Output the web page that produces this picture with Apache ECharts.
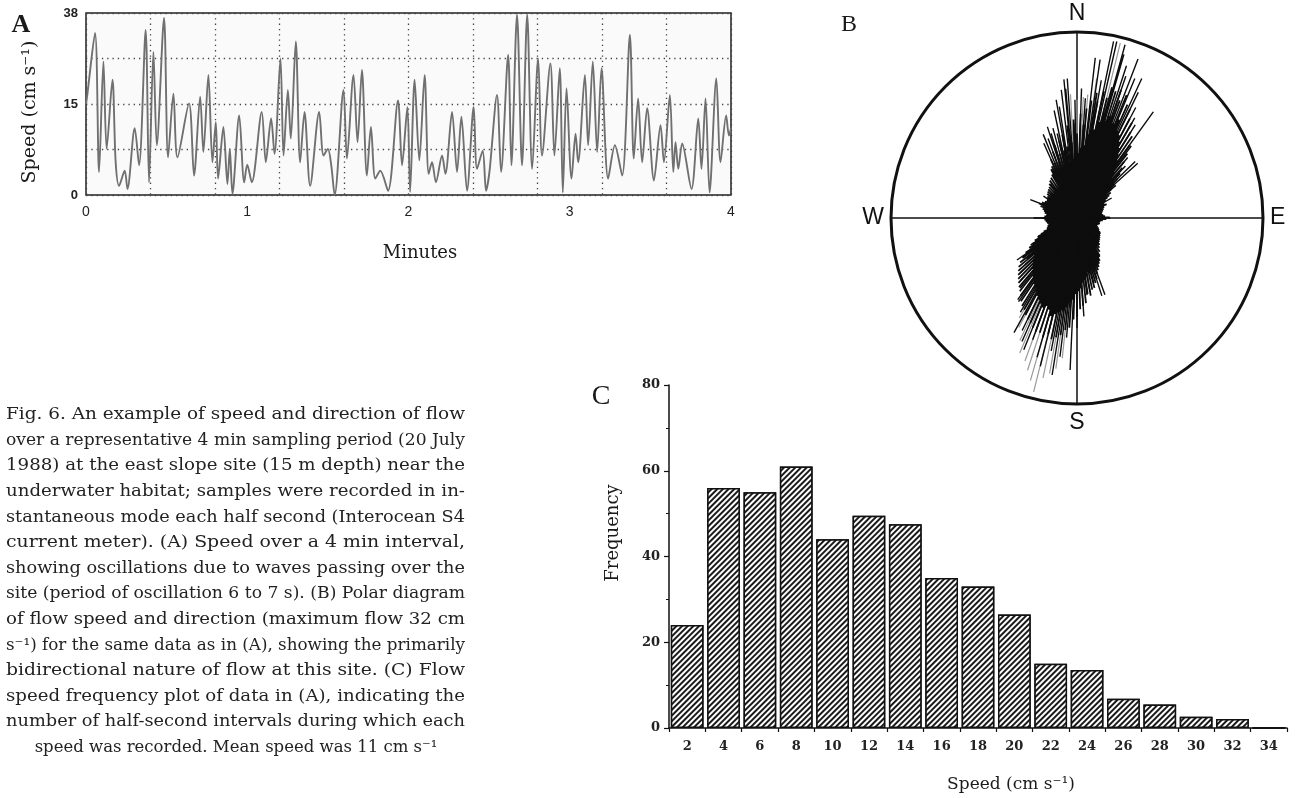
<!DOCTYPE html>
<html>
<head>
<meta charset="utf-8">
<script src="https://cdn.jsdelivr.net/npm/echarts@6/dist/echarts.min.js"></script>
<style>
html,body{margin:0;padding:0;background:#fff;}
#chart{width:1296px;height:798px;}
</style>
</head>
<body>
<div id="chart"></div>
<script>
// ---------- Panel A : speed time series ----------
const timeMinutes = [
  0.000,0.008,0.056,0.081,0.108,0.128,0.164,0.184,0.205,0.240,0.257,0.302,0.329,0.370,0.391,0.418,0.439,0.484,0.509,0.542,
  0.567,0.639,0.670,0.708,0.728,0.759,0.784,0.805,0.819,0.852,0.877,0.892,0.908,0.950,0.981,1.000,1.028,1.090,1.115,1.148,
  1.169,1.206,1.225,1.252,1.270,1.301,1.328,1.355,1.390,1.446,1.473,1.500,1.521,1.542,1.597,1.618,1.659,1.684,1.711,1.742,
  1.767,1.794,1.825,1.873,1.935,1.960,1.993,2.010,2.038,2.067,2.100,2.125,2.146,2.170,2.208,2.229,2.270,2.301,2.328,2.363,
  2.404,2.425,2.460,2.481,2.502,2.549,2.574,2.618,2.638,2.673,2.704,2.736,2.767,2.804,2.828,2.880,2.905,2.938,2.957,2.980,
  3.011,3.036,3.052,3.094,3.114,3.143,3.170,3.197,3.238,3.280,3.325,3.373,3.397,3.424,3.449,3.480,3.522,3.563,3.584,3.621,
  3.642,3.656,3.673,3.697,3.755,3.797,3.817,3.842,3.867,3.909,3.935,3.970,3.987,4.000
];
const speedCm = [
  15.0,16.5,26.7,3.8,22.0,7.6,19.0,5.4,1.5,4.0,1.0,11.0,4.9,27.2,2.1,23.6,8.2,29.2,6.2,16.7,
  6.2,15.1,3.2,16.2,7.1,19.8,5.4,12.0,2.7,11.2,1.8,7.6,0.2,13.1,2.1,5.0,2.1,13.7,5.4,12.6,
  6.8,22.5,6.5,17.3,9.3,25.3,5.4,13.7,1.5,13.7,6.5,7.6,4.9,0.0,17.3,6.0,19.8,8.7,20.6,3.2,
  11.2,2.7,4.0,0.7,15.6,4.9,14.5,0.5,19.0,5.7,19.8,3.5,5.4,2.1,6.5,3.5,13.7,3.8,12.9,0.7,
  14.5,4.3,7.3,0.7,3.8,16.5,3.8,23.1,4.9,29.7,4.9,29.7,4.3,22.5,6.5,21.7,6.5,20.9,0.4,17.6,
  2.7,10.1,5.4,19.8,8.2,22.0,7.1,20.9,2.7,8.2,3.2,26.4,6.0,15.9,5.4,14.3,2.4,11.5,5.4,16.5,
  3.8,8.7,4.3,8.5,1.0,12.6,4.3,15.9,0.4,19.2,5.4,13.1,9.8,11.0
];
const speedYTicks  = [0, 7.5, 15, 22.5, 30];
const speedYLabels = ['0', '', '15', '', '38'];
const minuteTicks  = [0, 1, 2, 3, 4];

// ---------- Panel B : polar diagram (direction deg clockwise from N, speed cm/s) ----------
const compassLabels = ['N', 'E', 'S', 'W'];
// NE lobe: one spoke per degree from 330 deg
const coreNEStart = 330;
const coreNESpeed = [
  8.9,6.5,9.8,7.0,10.2,6.8,11.4,7.5,10.6,8.0,
  12.5,8.0,10.4,13.5,8.6,11.8,9.0,14.0,9.5,12.2,
  15.0,9.6,12.8,10.0,16.5,11.0,13.5,10.5,17.5,12.0,
  15.0,11.5,18.5,12.5,16.6,19.5,13.0,21.0,15.0,22.5,
  21.0,16.0,23.0,17.5,22.0,24.0,18.0,23.5,19.0,24.0,
  22.2,18.0,23.5,19.0,22.0,17.0,21.5,16.5,20.0,15.5,
  19.5,14.5,18.0,13.5,17.5,12.5,16.0,11.5,14.5,10.5,
  13.0,9.5,12.0,8.5,11.0,8.0,10.0,7.5,9.0,7.0,8.0
];
// SW lobe: one spoke per degree from 150 deg
const coreSWStart = 150;
const coreSWSpeed = [
  8.0,6.0,8.6,6.5,9.0,7.0,9.5,7.2,10.0,7.8,
  10.6,8.0,11.4,8.5,12.0,9.5,12.8,10.0,13.0,9.8,
  14.0,10.5,13.6,11.0,15.2,11.5,15.6,12.5,16.2,13.0,
  17.5,13.5,18.0,14.5,19.5,15.0,20.0,16.0,21.0,16.5,
  21.5,17.0,22.0,17.5,21.2,18.0,22.0,17.0,21.4,16.5,
  21.5,17.0,21.0,16.5,20.4,16.0,20.0,15.5,19.5,15.0,
  18.8,14.5,18.4,14.0,17.8,13.5,17.0,13.0,16.5,12.5,
  16.0,12.0,15.5,11.5,15.0,11.0,14.5,10.5,14.0,10.0,
  13.5,9.5,12.8,9.0,12.0,8.5,11.0,8.0,10.0,7.5,
  9.2,7.0,8.5,6.5,7.8,6.0,7.0,5.6,6.4,5.2,5.7
];
// small central blob, one spoke every 3 degrees
const blobEStart = 53;
const blobESpeed = [7.5,6.5,6.0,5.5,5.8,5.2,5.0,4.8,4.6,4.5,4.7,5.0,5.8,5.2,4.6,4.2,4.0,4.2,4.0,3.8,
                    4.0,4.3,4.5,4.8,5.0,5.2,5.4,5.6,5.8,6.2,6.6,7.2,7.8];
const blobWStart = 252;
const blobWSpeed = [5.6,5.4,5.2,5.4,5.6,5.8,6.2,5.8,5.5,5.8,6.0,6.3,6.8,7.2,6.8,6.4,6.2,6.3,6.5,6.8,
                    7.0,7.2,7.4,7.8,8.2,8.5];
// individual long spokes [direction, speed]
const spokesLong = [
  [336,14.5],[338,16],[340,15],[342,17],[343,15.7],[345,16.5],[346.8,15.4],[348,19.5],[350,21.3],[351,20],
  [353,22.9],[354.6,24.7],[355,23],[356,24.8],[358,16.9],[359,21],
  [2,23],[4,21.3],[6.5,28.6],[8.3,28.4],[10,24.8],[11.7,32],[12.7,32.1],[15.5,31.9],[16,30.2],[18,28.4],
  [19,26.6],[21,30.2],[22.5,26.8],[24.9,27.3],[26,24.8],[28,22.2],[30,20.5],[32,19.5],[35.7,23.2],[37,16],
  [40,14],[43,12.6],[45.8,14.4],[48,14.5],[50,9],[55,7],[60,7.1],
  [160,14.5],[162.3,14.5],[165.6,11.9],[170,13.3],[172.6,13.8],[176,17.5],[180,19.5],[182.6,27],[185,21.3],[187,24.8],
  [189,28.2],[191,24],[193.9,27.1],[196,25.7],[200,23],[202,25.2],[204,24],[206,22.2],[208.8,23.2],[211,19.5],
  [215,18.1],[216,17.9],[219,16],[222,15],[226,14],[228,12.4],[231,11.5],[233.5,11.9],[235,13],[240,9.5],[245,7.6],
  [90,5.9],[123,5],[140,6.2],[270,7.7],[291.5,8.9],[303,7.1],[322,7.6]
];
const spokesGray = [
  [0,21],[3,21.5],[5,22],[8,25],[357,22],[13.9,32],
  [186,25],[188,27],[190,28],[192,29],[194,31.8],[196,30],[198,28.4],[200,27],[203,26],[205,24],[208,22],[210,20.5]
];

// ---------- Panel C : frequency histogram ----------
const speedBins = ['2','4','6','8','10','12','14','16','18','20','22','24','26','28','30','32','34'];
const frequency = [24,56,55,61,44,49.5,47.5,35,33,26.5,15,13.5,6.8,5.5,2.6,2.1,0];

// ---------- Caption ----------
const captionLines = [
  'Fig. 6. An example of speed and direction of flow',
  'over a representative 4 min sampling period (20 July',
  '1988) at the east slope site (15 m depth) near the',
  'underwater habitat; samples were recorded in in-',
  'stantaneous mode each half second (Interocean S4',
  'current meter). (A) Speed over a 4 min interval,',
  'showing oscillations due to waves passing over the',
  'site (period of oscillation 6 to 7 s). (B) Polar diagram',
  'of flow speed and direction (maximum flow 32 cm',
  's\u207B\u00B9) for the same data as in (A), showing the primarily',
  'bidirectional nature of flow at this site. (C) Flow',
  'speed frequency plot of data in (A), indicating the',
  'number of half-second intervals during which each',
  'speed was recorded. Mean speed was 11 cm s\u207B\u00B9'
];

// ---------- build ----------
const seriesA = timeMinutes.map((t, i) => [t, speedCm[i]]);
function spokePath(list) {
  const out = [];
  list.forEach(([d, s]) => { out.push([0, d]); out.push([s, d]); });
  return out;
}
function stepSpokes(start, step, speeds) {
  return speeds.map((s, i) => [(start + i * step) % 360, s]);
}
const coreSpokes = stepSpokes(coreNEStart, 1, coreNESpeed)
  .concat(stepSpokes(coreSWStart, 1, coreSWSpeed))
  .concat(stepSpokes(blobEStart, 3, blobESpeed))
  .concat(stepSpokes(blobWStart, 3, blobWSpeed));

const capFont = '16.5px "DejaVu Serif"';
const mctx = document.createElement('canvas').getContext('2d');
mctx.font = capFont;
const capGraphics = captionLines.map((t, i) => {
  const last = i === captionLines.length - 1;
  const w = mctx.measureText(t).width;
  return {
    type: 'text', x: last ? 236 : 6, y: 415 + i * 25.6,
    scaleX: last ? 1 : 459 / w,
    style: { text: t, font: capFont, fill: '#222', align: last ? 'center' : 'left', verticalAlign: 'middle',
             textAlign: last ? 'center' : 'left', textVerticalAlign: 'middle' }
  };
});

function label(text, x, y, font, rot) {
  return { type: 'text', x: x, y: y, rotation: rot || 0,
    style: { text: text, font: font, fill: '#1a1a1a', align: 'center', verticalAlign: 'middle',
             textAlign: 'center', textVerticalAlign: 'middle' } };
}

const chart = echarts.init(document.getElementById('chart'), null, { renderer: 'canvas' });
const option = {
  animation: false,
  backgroundColor: '#fff',
  aria: { enabled: true, decal: { show: true } },
  grid: [
    { left: 86, top: 13, width: 645, height: 182, show: true, borderColor: '#222', borderWidth: 1.5, backgroundColor: '#fafafa' },
    { left: 669, top: 385, width: 618, height: 343 }
  ],
  polar: { center: [1077, 218], radius: 186 },
  angleAxis: {
    type: 'value', min: 0, max: 360, interval: 90, startAngle: 90, clockwise: true,
    axisLine: { show: true, lineStyle: { color: '#111', width: 3 } },
    axisTick: { show: false },
    splitLine: { show: true, lineStyle: { color: '#111', width: 1.5 } },
    axisLabel: {
      show: true, margin: 7, color: '#111', fontSize: 23, fontFamily: 'Liberation Sans',
      formatter: v => (v < 360 ? compassLabels[Math.round(v / 90)] : '')
    }
  },
  radiusAxis: { type: 'value', min: 0, max: 33, show: false, splitLine: { show: false }, axisLine: { show: false } },
  xAxis: [
    { gridIndex: 0, type: 'value', min: 0, max: 4, interval: 1,
      axisLine: { show: false }, axisTick: { show: false }, splitLine: { show: false },
      axisLabel: { margin: 10, color: '#222', fontSize: 14, fontFamily: 'Liberation Sans', showMinLabel: true, showMaxLabel: true,
        formatter: v => (minuteTicks.indexOf(v) >= 0 ? String(v) : '') } },
    { gridIndex: 0, type: 'value', min: 0, max: 4, interval: 0.4, position: 'bottom',
      axisLine: { show: false }, axisTick: { show: false }, axisLabel: { show: false },
      splitLine: { show: true, lineStyle: { color: '#444', width: 1.3, type: [1.3, 4] } } },
    { gridIndex: 1, type: 'category', data: speedBins,
      axisLine: { show: true, lineStyle: { color: '#111', width: 1.5 } },
      axisTick: { show: true, length: 4, lineStyle: { color: '#111', width: 1.2 } },
      axisLabel: { margin: 12, color: '#222', fontSize: 13, fontWeight: 'bold', fontFamily: 'DejaVu Serif' } }
  ],
  yAxis: [
    { gridIndex: 0, type: 'value', min: 0, max: 30, interval: 7.5,
      axisLine: { show: false }, axisTick: { show: false },
      splitLine: { show: true, lineStyle: { color: '#444', width: 1.3, type: [1.3, 4] } },
      axisLabel: { margin: 8, color: '#222', fontSize: 13, fontWeight: 'bold', fontFamily: 'Liberation Sans',
        showMinLabel: true, showMaxLabel: true,
        formatter: v => { const i = speedYTicks.indexOf(v); return i >= 0 ? speedYLabels[i] : ''; } } },
    { gridIndex: 1, type: 'value', min: 0, max: 80, interval: 20,
      axisLine: { show: true, lineStyle: { color: '#111', width: 1.5 } },
      axisTick: { show: true, length: 5, lineStyle: { color: '#111', width: 1.2 } },
      minorTick: { show: true, splitNumber: 2, length: 3, lineStyle: { color: '#111', width: 1 } },
      splitLine: { show: false },
      axisLabel: { margin: 9, color: '#222', fontSize: 13, fontWeight: 'bold', fontFamily: 'DejaVu Serif' } }
  ],
  series: [
    { type: 'line', xAxisIndex: 0, yAxisIndex: 0, data: seriesA, showSymbol: false, symbol: 'none',
      smooth: 0.3, lineStyle: { color: '#707070', width: 1.9 }, z: 3 },
    { type: 'line', coordinateSystem: 'polar', polarIndex: 0, data: spokePath(spokesGray),
      showSymbol: false, symbol: 'none', lineStyle: { color: '#9a9a9a', width: 1.2, join: 'bevel' }, z: 2 },
    { type: 'line', coordinateSystem: 'polar', polarIndex: 0, data: spokePath(coreSpokes),
      showSymbol: false, symbol: 'none', lineStyle: { color: '#0d0d0d', width: 1.8, join: 'bevel' }, z: 3 },
    { type: 'line', coordinateSystem: 'polar', polarIndex: 0, data: spokePath(spokesLong),
      showSymbol: false, symbol: 'none', lineStyle: { color: '#0d0d0d', width: 1.4, join: 'bevel' }, z: 3 },
    { type: 'bar', xAxisIndex: 2, yAxisIndex: 1, data: frequency, barCategoryGap: '10%',
      itemStyle: { color: '#ffffff', borderColor: '#111', borderWidth: 1.5,
        decal: { symbol: 'rect', symbolSize: 1, color: '#1a1a1a', backgroundColor: '#ffffff',
                 dashArrayX: [1, 0], dashArrayY: [1.1, 2], rotation: -Math.PI / 4 } } }
  ],
  graphic: [
    label('A', 21, 25, 'bold 26px "Liberation Serif"'),
    label('B', 849, 25, '24px "Liberation Serif"'),
    label('C', 601, 397, '28px "Liberation Serif"'),
    label('Speed (cm s\u207B\u00B9)', 30, 112, '19px "DejaVu Serif"', Math.PI / 2),
    label('Minutes', 420, 253, '18px "DejaVu Serif"'),
    label('Frequency', 613, 533, '18px "DejaVu Serif"', Math.PI / 2),
    label('Speed (cm s\u207B\u00B9)', 1011, 785, '17px "DejaVu Serif"')
  ].concat(capGraphics)
};
chart.setOption(option);
</script>
</body>
</html>
